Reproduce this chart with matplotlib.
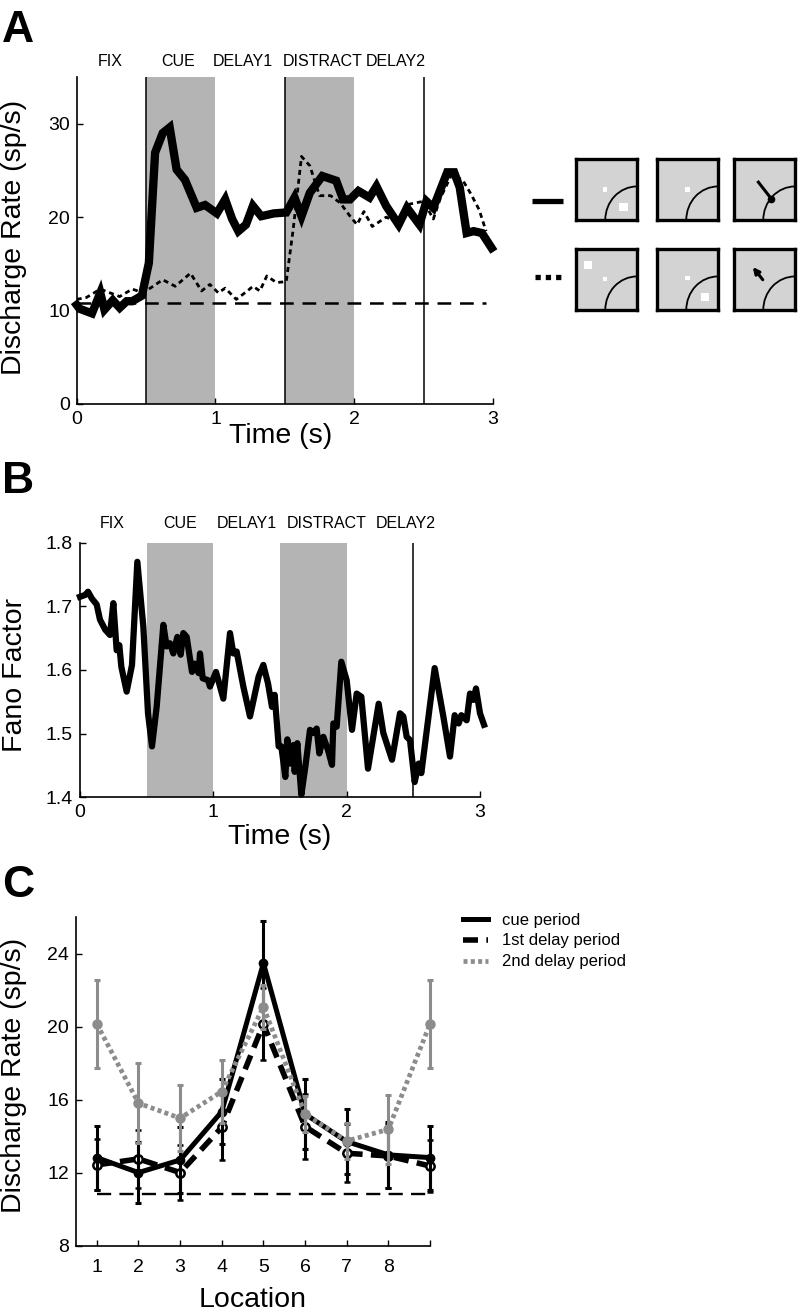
import numpy as np
import matplotlib.pyplot as plt
import matplotlib.transforms as mtransforms
from matplotlib.patches import Arc, Rectangle
from matplotlib.lines import Line2D

plt.rcParams['font.family'] = ['Liberation Sans', 'DejaVu Sans']

# ---------------- data ----------------
period_names = ['FIX', 'CUE', 'DELAY1', 'DISTRACT', 'DELAY2']
label_pos_A = [0.24, 0.73, 1.20, 1.77, 2.30]   # where the names sit (s)
label_pos_B = [0.24, 0.75, 1.25, 1.85, 2.44]
shaded = [(0.5, 1.0), (1.5, 2.0)]

# A: discharge rate, target in RF (solid)
t_cue = [0, 0.02, 0.11, 0.17, 0.20, 0.26, 0.31, 0.36, 0.40, 0.47, 0.52, 0.565,
         0.62, 0.67, 0.72, 0.78, 0.865, 0.925, 1.01, 1.07, 1.12, 1.165, 1.22,
         1.27, 1.33, 1.42, 1.51, 1.57, 1.62, 1.68, 1.77, 1.87, 1.92, 1.97,
         2.03, 2.11, 2.16, 2.23, 2.32, 2.38, 2.47, 2.52, 2.57, 2.67, 2.72,
         2.76, 2.81, 2.86, 2.92, 2.99]
r_cue = [10.6, 10.2, 9.7, 11.9, 10.1, 11.1, 10.3, 11.0, 11.0, 11.6, 15.1, 26.9,
         29.0, 29.6, 25.1, 24.0, 21.0, 21.3, 20.4, 21.9, 19.8, 18.5, 19.2,
         21.2, 20.1, 20.4, 20.5, 22.1, 20.1, 22.6, 24.4, 23.9, 21.9, 21.9,
         22.8, 22.1, 23.3, 21.2, 19.2, 21.0, 19.2, 21.7, 21.0, 24.8, 24.8,
         23.2, 18.3, 18.5, 18.3, 16.7]

# A: discharge rate, distractor in RF (dotted)
t_dis = [0, 0.07, 0.17, 0.24, 0.31, 0.40, 0.48, 0.55, 0.62, 0.71, 0.82, 0.90,
         0.96, 1.02, 1.07, 1.15, 1.23, 1.27, 1.32, 1.37, 1.44, 1.51, 1.56,
         1.62, 1.68, 1.75, 1.83, 1.90, 1.97, 2.02, 2.07, 2.13, 2.23, 2.32,
         2.40, 2.50, 2.57, 2.62, 2.70, 2.78, 2.84, 2.90, 2.95]
r_dis = [11.2, 11.4, 12.3, 11.9, 11.5, 12.3, 11.9, 12.6, 13.3, 12.6, 14.0, 12.1,
         12.8, 11.9, 12.4, 11.2, 12.1, 12.6, 12.1, 13.7, 13.0, 13.1, 18.7,
         26.5, 25.5, 22.3, 22.3, 21.5, 20.1, 19.2, 20.6, 19.0, 20.0, 19.4,
         21.4, 21.7, 19.8, 22.0, 24.5, 24.0, 22.5, 20.8, 18.5]
baseline_rate = 10.8

# B: Fano factor
t_ff = [0, 0.04, 0.06, 0.09, 0.125, 0.15, 0.19, 0.225, 0.25, 0.275, 0.295,
        0.31, 0.35, 0.39, 0.43, 0.475, 0.51, 0.54, 0.575, 0.625, 0.65, 0.675,
        0.70, 0.73, 0.755, 0.775, 0.80, 0.84, 0.86, 0.89, 0.90, 0.92, 0.96,
        0.975, 1.02, 1.075, 1.125, 1.15, 1.175, 1.225, 1.275, 1.34, 1.375,
        1.41, 1.44, 1.46, 1.49, 1.51, 1.54, 1.555, 1.575, 1.60, 1.61, 1.63,
        1.66, 1.69, 1.725, 1.75, 1.775, 1.795, 1.825, 1.86, 1.89, 1.90, 1.925,
        1.96, 2.0, 2.04, 2.075, 2.11, 2.16, 2.24, 2.275, 2.34, 2.40, 2.425,
        2.45, 2.475, 2.51, 2.54, 2.56, 2.66, 2.725, 2.775, 2.81, 2.84, 2.86,
        2.90, 2.925, 2.95, 2.97, 3.0, 3.03]
ff = [1.715, 1.718, 1.723, 1.712, 1.703, 1.679, 1.663, 1.655, 1.705, 1.631,
      1.639, 1.605, 1.566, 1.608, 1.770, 1.668, 1.532, 1.480, 1.542, 1.671,
      1.637, 1.642, 1.626, 1.652, 1.624, 1.658, 1.652, 1.597, 1.610, 1.595,
      1.626, 1.587, 1.584, 1.574, 1.597, 1.555, 1.658, 1.626, 1.629, 1.574,
      1.527, 1.590, 1.608, 1.579, 1.542, 1.561, 1.480, 1.480, 1.432, 1.491,
      1.453, 1.482, 1.440, 1.485, 1.404, 1.448, 1.506, 1.501, 1.508, 1.469,
      1.495, 1.474, 1.451, 1.516, 1.511, 1.613, 1.584, 1.506, 1.563, 1.558,
      1.445, 1.547, 1.501, 1.459, 1.532, 1.527, 1.495, 1.490, 1.424, 1.453,
      1.438, 1.603, 1.527, 1.464, 1.529, 1.516, 1.529, 1.521, 1.563, 1.553,
      1.571, 1.532, 1.514]

# C: tuning across locations
locations = [1, 2, 3, 4, 5, 6, 7, 8, 9]
cue_mean = [12.84, 12.02, 12.71, 15.36, 23.49, 15.23, 13.72, 12.99, 12.84]
cue_err = [1.75, 1.65, 1.8, 1.8, 2.3, 1.9, 1.8, 1.8, 1.75]
delay1_mean = [12.44, 12.77, 12.02, 14.50, 20.16, 14.54, 13.08, 12.93, 12.38]
delay1_err = [1.4, 1.6, 1.5, 1.8, 1.97, 1.8, 1.6, 1.75, 1.4]
delay2_mean = [20.16, 15.82, 15.0, 16.46, 21.1, 15.23, 13.75, 14.39, 20.16]
delay2_err = [2.4, 2.2, 1.8, 1.7, 1.2, 1.0, 1.0, 1.9, 2.4]
baseline_loc = 10.83

W, H = 799, 1315
SHADE = '#b4b4b4'
GRAY = '#8c8c8c'
fig = plt.figure(figsize=(W / 100, H / 100), dpi=100)


def px_rect(x0, y0, x1, y1):
    # pixel box (top-left origin) -> figure fraction rect
    return [x0 / W, 1 - y1 / H, (x1 - x0) / W, (y1 - y0) / H]


def style_axes(ax):
    ax.spines['top'].set_visible(False)
    ax.spines['right'].set_visible(False)
    ax.spines['left'].set_linewidth(1.2)
    ax.spines['bottom'].set_linewidth(1.2)
    ax.tick_params(direction='in', length=4, width=1, labelsize=14, pad=5)


def period_labels(ax, xs, y):
    tr = mtransforms.blended_transform_factory(ax.transData, ax.transAxes)
    for name, x in zip(period_names, xs):
        ax.text(x, y, name, transform=tr, ha='center', va='center',
                fontsize=11.5)


# ---------------- A ----------------
axA = fig.add_axes(px_rect(76.7, 77, 493, 404))
for a, b in shaded:
    axA.axvspan(a, b, color=SHADE, lw=0, zorder=0)
for x in [0.5, 1.5, 2.5]:
    axA.axvline(x, color='k', lw=1.1, zorder=1)
axA.hlines(baseline_rate, t_cue[0], 2.95, colors='k', lw=1.8,
           linestyles=[(0, (5.5, 3.5))], zorder=2)
axA.plot(t_dis, r_dis, color='k', lw=2, ls=(0, (1.8, 1.4)), zorder=3)
axA.plot(t_cue, r_cue, color='k', lw=6, solid_joinstyle='miter', zorder=4,
         clip_on=False)
axA.set_xlim(0, 3)
axA.set_ylim(0, 35)
axA.set_xticks([0, 1, 2, 3])
axA.set_yticks([0, 10, 20, 30])
style_axes(axA)
axA.set_xlabel('Time (s)', fontsize=20.5)
axA.set_ylabel('Discharge Rate (sp/s)', fontsize=20.5)
axA.xaxis.set_label_coords(0.49, -0.058)
axA.yaxis.set_label_coords(-0.12, 0.51)
period_labels(axA, label_pos_A, 1.046)
fig.text(2 / W, 1 - 42 / H, 'A', fontsize=32, fontweight='bold', va='baseline')

# icons for panel A
icon_cols = [576, 657, 734]
icon_rows = [159, 249]
BOX = 61
# per row: small fixation, big squares, saccade lines
icon_fix = [[(0.47, 0.5), (0.5, 0.5), None], [(0.47, 0.51), (0.5, 0.52), None]]
icon_big = [[(0.78, 0.21), None, None], [(0.2, 0.74), (0.79, 0.22), None]]
icon_sacc = [[None, None, ((0.40, 0.62), (0.61, 0.35))],
             [None, None, ((0.50, 0.46), (0.28, 0.74))]]
for r, top in enumerate(icon_rows):
    for c, left in enumerate(icon_cols):
        ax = fig.add_axes(px_rect(left, top, left + BOX, top + BOX))
        ax.set_xlim(0, 1)
        ax.set_ylim(0, 1)
        ax.set_facecolor('#d3d3d3')
        ax.set_xticks([])
        ax.set_yticks([])
        for s in ax.spines.values():
            s.set_linewidth(2.4)
        ax.add_patch(Arc((1, 0), 1.04, 1.1, theta1=90, theta2=180, lw=1.3,
                         color='k'))
        if icon_fix[r][c] is not None:
            fx, fy = icon_fix[r][c]
            ax.add_patch(Rectangle((fx - 0.035, fy - 0.035), 0.07, 0.07,
                                   color='white', lw=0))
        if icon_big[r][c] is not None:
            bx, by = icon_big[r][c]
            ax.add_patch(Rectangle((bx - 0.07, by - 0.065), 0.14, 0.13,
                                   color='white', lw=0))
        if icon_sacc[r][c] is not None:
            (x0, y0), (x1, y1) = icon_sacc[r][c]
            if r == 0:
                ax.plot([x0, x1], [y0, y1], color='k', lw=2.2)
                ax.plot(x1, y1, 'o', color='k', ms=4.5)
            else:
                ax.annotate('', xy=(x1, y1), xytext=(x0, y0),
                            arrowprops=dict(arrowstyle='-|>', color='k',
                                            lw=2.2, mutation_scale=9))

fig.add_artist(Line2D([532 / W, 563 / W], [1 - 201 / H, 1 - 201 / H],
                      color='k', lw=3.8, solid_capstyle='butt'))
fig.add_artist(Line2D([535 / W, 562 / W], [1 - 277 / H, 1 - 277 / H],
                      color='k', lw=3.8, ls=(0, (1, 0.95)),
                      dash_capstyle='butt'))

# ---------------- B ----------------
axB = fig.add_axes(px_rect(80, 542.7, 480, 797.3))
for a, b in shaded:
    axB.axvspan(a, b, color=SHADE, lw=0, zorder=0)
axB.axvline(2.5, color='k', lw=1.1, zorder=1)
axB.plot(t_ff, ff, color='k', lw=4.5, zorder=3, clip_on=False)
axB.set_xlim(0, 3)
axB.set_ylim(1.4, 1.8)
axB.set_xticks([0, 1, 2, 3])
axB.set_yticks([1.4, 1.5, 1.6, 1.7, 1.8])
axB.set_yticklabels(['1.4', '1.5', '1.6', '1.7', '1.8'])
style_axes(axB)
axB.set_xlabel('Time (s)', fontsize=20.5)
axB.set_ylabel('Fano Factor', fontsize=20.5)
axB.xaxis.set_label_coords(0.5, -0.105)
axB.yaxis.set_label_coords(-0.13, 0.48)
period_labels(axB, label_pos_B, 1.077)
fig.text(2 / W, 1 - 493 / H, 'B', fontsize=32, fontweight='bold', va='baseline')

# ---------------- C ----------------
axC = fig.add_axes(px_rect(76, 917.3, 430, 1246))
axC.hlines(baseline_loc, locations[0], locations[-1], colors='k', lw=1.7,
           linestyles=[(0, (6, 3.5))], zorder=1)
containers = []
containers.append(axC.errorbar(
    locations, delay1_mean, yerr=delay1_err, color='k', lw=4,
    ls=(0, (2.7, 1.5)), marker='o', ms=6, mfc='white', mec='k', mew=1.8,
    elinewidth=2.2, capsize=2.5, capthick=2.2, zorder=3))
containers.append(axC.errorbar(
    locations, cue_mean, yerr=cue_err, color='k', lw=3.6, ls='-', marker='o',
    ms=6, mfc='k', mec='k', elinewidth=2.2, capsize=2.5, capthick=2.2,
    zorder=4))
containers.append(axC.errorbar(
    locations, delay2_mean, yerr=delay2_err, color=GRAY, lw=3.4,
    ls=(0, (0.85, 0.7)), marker='o', ms=6.5, mfc=GRAY, mec=GRAY,
    elinewidth=2.2, capsize=2.5, capthick=2.2, zorder=5))
for cont in containers:
    for art in cont.get_children():
        art.set_clip_on(False)
axC.set_xlim(0.5, 9)
axC.set_ylim(8, 26)
axC.set_xticks(locations)
axC.set_xticklabels([str(l) for l in locations[:-1]] + [''])
axC.set_yticks([8, 12, 16, 20, 24])
style_axes(axC)
axC.tick_params(axis='x', pad=9)
axC.set_xlabel('Location', fontsize=20.5)
axC.set_ylabel('Discharge Rate (sp/s)', fontsize=20.5)
axC.xaxis.set_label_coords(0.5, -0.125)
axC.yaxis.set_label_coords(-0.138, 0.52)
fig.text(2 / W, 1 - 897 / H, 'C', fontsize=32, fontweight='bold', va='baseline')

leg_handles = [
    Line2D([], [], color='k', lw=3.6),
    Line2D([], [], color='k', lw=4, ls=(0, (2.7, 1.5))),
    Line2D([], [], color=GRAY, lw=3.4, ls=(0, (0.85, 0.7))),
]
fig.legend(leg_handles, ['cue period', '1st delay period', '2nd delay period'],
           loc='upper left', bbox_to_anchor=(456 / W, 1 - 906 / H),
           frameon=False, fontsize=12, handlelength=1.5, handletextpad=0.85,
           labelspacing=0.35, borderaxespad=0)

fig.savefig('out.png', dpi=100)
